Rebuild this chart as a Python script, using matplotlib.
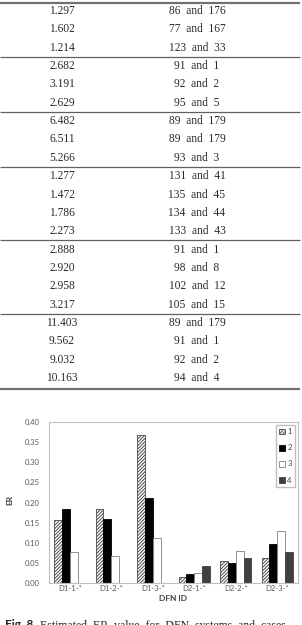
import matplotlib
matplotlib.use('Agg')
import numpy as np
import matplotlib.pyplot as plt

# 表格数据
er_values = ['1.297', '1.602', '1.214',
             '2.682', '3.191', '2.629',
             '6.482', '6.511', '5.266',
             '1.277', '1.472', '1.786', '2.273',
             '2.888', '2.920', '2.958', '3.217',
             '11.403', '9.562', '9.032', '10.163']
node_pairs = ['86  and  176', '77  and  167', '123  and  33',
              '91  and  1', '92  and  2', '95  and  5',
              '89  and  179', '89  and  179', '93  and  3',
              '131  and  41', '135  and  45', '134  and  44', '133  and  43',
              '91  and  1', '98  and  8', '102  and  12', '105  and  15',
              '89  and  179', '91  and  1', '92  and  2', '94  and  4']
group_sizes = [3, 3, 3, 4, 4, 4]

# 柱状图数据
dfn_ids = ['D1-1-*', 'D1-2-*', 'D1-3-*', 'D2-1-*', 'D2-2-*', 'D2-3-*']
series_names = ['1', '2', '3', '4']
er_1 = [0.157, 0.183, 0.367, 0.015, 0.055, 0.061]
er_2 = [0.185, 0.159, 0.211, 0.022, 0.050, 0.098]
er_3 = [0.078, 0.068, 0.111, 0.025, 0.079, 0.128]
er_4 = [0.0, 0.0, 0.0, 0.042, 0.062, 0.077]

plt.rcParams['hatch.linewidth'] = 0.7

fig = plt.figure(figsize=(3.02, 6.25), dpi=100)

# 表格部分，用像素坐标画
ax_t = fig.add_axes([0, 0, 1, 1])
ax_t.set_xlim(0, 302)
ax_t.set_ylim(625, 0)
ax_t.axis('off')

row_h = 18.35
row0 = 11
serif = 'Liberation Serif'
for i, (er, pair) in enumerate(zip(er_values, node_pairs)):
    y = row0 + row_h * i
    ax_t.text(62, y, er, ha='center', va='center', fontsize=8.3, family=serif, color='#2a2a2a')
    ax_t.text(197, y, pair, ha='center', va='center', fontsize=8.3, family=serif, color='#2a2a2a')

ax_t.hlines(row0 - 8, 0, 300, color='#707070', lw=1.6)
ax_t.hlines(row0 + row_h * (len(er_values) - 1) + 11, 0, 300, color='#707070', lw=1.6)
k = 0
for n in group_sizes[:-1]:
    k += n
    ax_t.hlines(row0 + row_h * (k - 0.5), 0, 300, color='#606060', lw=0.9)

# 图注（和原图一样只露出上半部分）
ax_t.text(5, 619.5, 'Fig. 8.', ha='left', va='top', fontsize=8.5, family='Lato', fontweight='bold', color='#222')
ax_t.text(40, 619.5, 'Estimated  ER  value  for  DFN  systems  and  cases', ha='left', va='top',
          fontsize=8.5, family=serif, color='#222')

# 柱状图
ax = fig.add_axes([49 / 302, 42 / 625, 249 / 302, 161 / 625])
x = np.arange(len(dfn_ids))
w = 0.1875
styles = [
    dict(color='white', edgecolor='#4a4a4a', hatch='//////////'),
    dict(color='black', edgecolor='black'),
    dict(color='white', edgecolor='#808080'),
    dict(color='#404040', edgecolor='#404040'),
]
for j, (vals, name, st) in enumerate(zip([er_1, er_2, er_3, er_4], series_names, styles)):
    ax.bar(x + (j - 1.5) * w, vals, w, label=name, linewidth=0.6, **st)

ax.set_xlim(-0.5, len(dfn_ids) - 0.5)
ax.set_ylim(0, 0.40)
ax.set_yticks(np.arange(0, 0.401, 0.05))
ax.set_yticklabels(['%.2f' % v for v in np.arange(0, 0.401, 0.05)])
ax.set_xticks(x)
ax.set_xticklabels(dfn_ids)
ax.tick_params(axis='y', length=0, pad=6.5, labelsize=5.5, labelcolor='#595959')
ax.tick_params(axis='x', length=0, pad=1.5, labelsize=5.5, labelcolor='#595959')
for lab in ax.get_xticklabels() + ax.get_yticklabels():
    lab.set_family(['Lato', 'DejaVu Sans'])
for sp in ax.spines.values():
    sp.set_color('#bfbfbf')
    sp.set_linewidth(0.8)

ax.set_ylabel('ER', fontsize=6, fontweight='bold', family='Lato', color='#404040', va='center')
ax.yaxis.set_label_coords(-0.157, 0.515)
ax.set_xlabel('DFN ID', fontsize=6, fontweight='bold', family='Lato', color='#404040', va='center')
ax.xaxis.set_label_coords(0.498, -0.099)

leg = ax.legend(loc='upper right', fontsize=5.5, handlelength=0.8, handleheight=0.8,
                handletextpad=0.3, labelspacing=1.2, borderpad=0.4, borderaxespad=0.4,
                fancybox=False, framealpha=1, edgecolor='#bfbfbf', prop={'family': 'Lato', 'size': 5.5})
for t in leg.get_texts():
    t.set_color('#404040')

fig.savefig('out.png', dpi=100)
